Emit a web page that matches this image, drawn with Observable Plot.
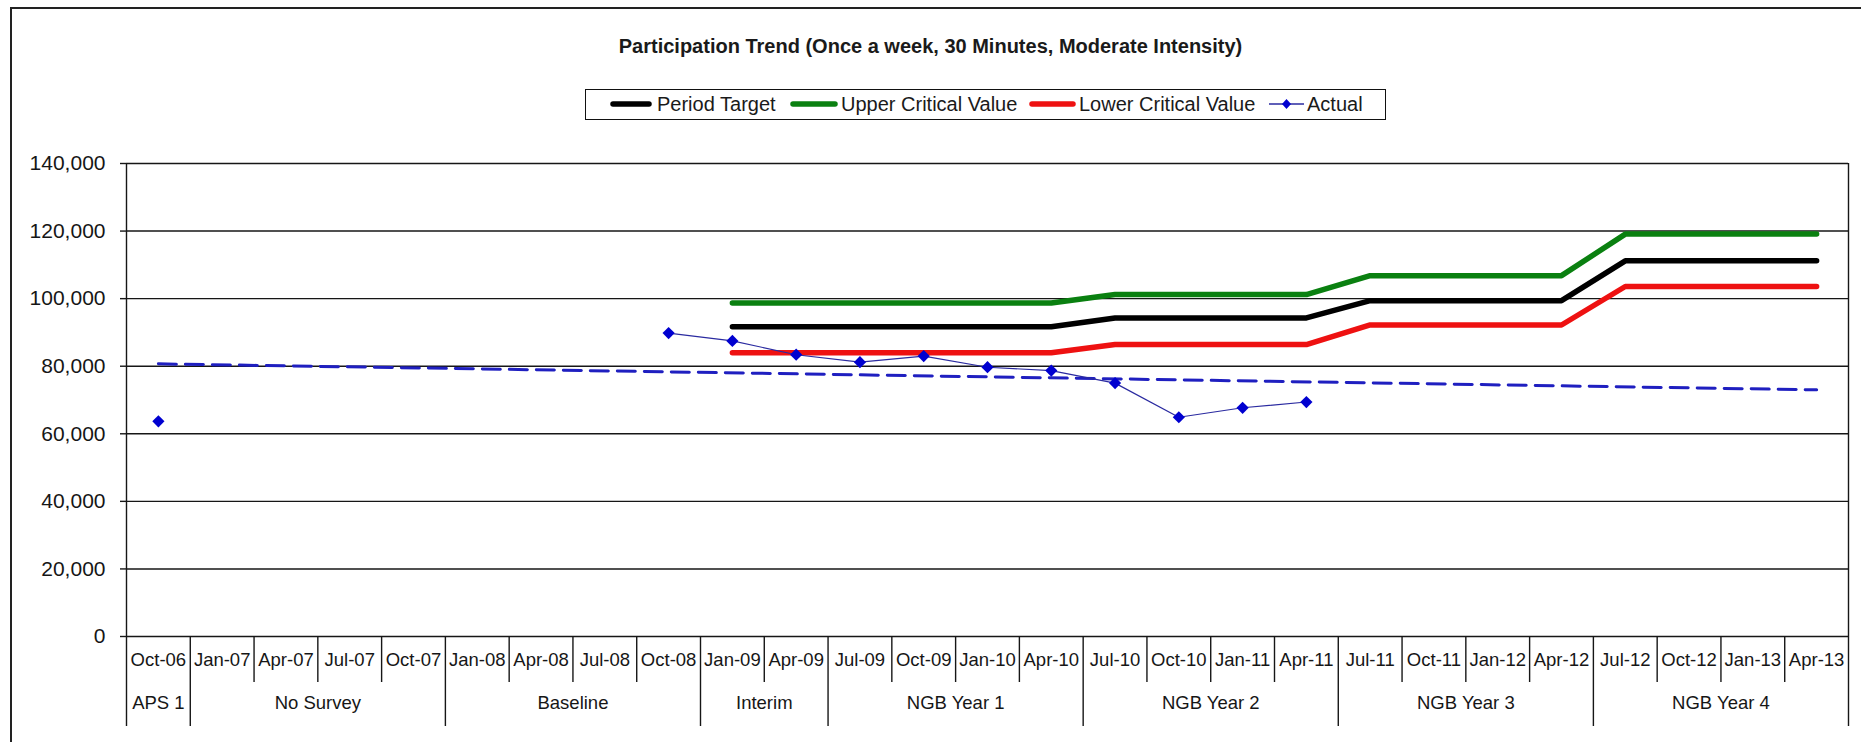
<!DOCTYPE html>
<html>
<head>
<meta charset="utf-8">
<script src="https://cdn.jsdelivr.net/npm/d3@7"></script>
<script src="https://cdn.jsdelivr.net/npm/@observablehq/plot@0.6"></script>
<style>
  html, body { margin:0; padding:0; background:#fff; overflow:hidden; }
  body { width:1861px; height:742px; position:relative; font-family:"Liberation Sans", Arial, sans-serif; color:#1a1a1a; }
  #frame { position:absolute; left:10px; top:7px; width:1900px; height:800px; border-left:2px solid #222; border-top:2px solid #222; box-sizing:border-box; }
  #title { position:absolute; left:0; width:1861px; top:35px; text-align:center; font-weight:bold; font-size:20px; }
  #legend { position:absolute; left:585px; top:89px; width:801px; height:31px; border:1.5px solid #111; box-sizing:border-box; }
  .lt { position:absolute; top:0; height:28px; line-height:28px; font-size:20px; white-space:nowrap; }
  .ls { position:absolute; top:0; }
  #chart { position:absolute; left:0; top:120px; }
</style>
</head>
<body>
<div id="frame"></div>
<div id="title">Participation Trend (Once a week, 30 Minutes, Moderate Intensity)</div>
<div id="legend"></div>
<div id="chart"></div>
<script>
// ---------- data ----------
const categories = ["Oct-06","Jan-07","Apr-07","Jul-07","Oct-07","Jan-08","Apr-08","Jul-08","Oct-08",
  "Jan-09","Apr-09","Jul-09","Oct-09","Jan-10","Apr-10","Jul-10","Oct-10","Jan-11","Apr-11",
  "Jul-11","Oct-11","Jan-12","Apr-12","Jul-12","Oct-12","Jan-13","Apr-13"];
const groups = ["APS 1","No Survey","Baseline","Interim","NGB Year 1","NGB Year 2","NGB Year 3","NGB Year 4"];
const groupSizes = [1,4,4,2,4,4,4,4];
const periodTarget = [null,null,null,null,null,null,null,null,null,
  91700,91700,91700,91700,91700,91700,94300,94300,94300,94300,
  99400,99400,99400,99400,111200,111200,111200,111200];
const upperCritical = [null,null,null,null,null,null,null,null,null,
  98700,98700,98700,98700,98700,98700,101200,101200,101200,101200,
  106800,106800,106800,106800,119100,119100,119100,119100];
const lowerCritical = [null,null,null,null,null,null,null,null,null,
  84000,84000,84000,84000,84000,84000,86400,86400,86400,86400,
  92200,92200,92200,92200,103600,103600,103600,103600];
const actual = [63700,null,null,null,null,null,null,null,89800,
  87500,83400,81200,83000,79700,78700,75000,64900,67700,69400,
  null,null,null,null,null,null,null,null];
const trendCats = ["Oct-06","Apr-13"];
const trendValues = [80700, 73000];
const yTicks = [0,20000,40000,60000,80000,100000,120000,140000];

// ---------- tables ----------
const rows = categories.map((c,i)=>({i, cat:c, target:periodTarget[i], upper:upperCritical[i], lower:lowerCritical[i], actual:actual[i]}));
const trendRows = trendCats.map((c,k)=>({i:categories.indexOf(c), v:trendValues[k]}));
let start = 0;
const groupRows = groups.map((g,k)=>{ const r = {name:g, center:start - 0.5 + groupSizes[k]/2, left:start-0.5}; start += groupSizes[k]; return r; });
const edges = [-0.5, categories.length-0.5];
const groupBounds = groupRows.map(d=>d.left).filter(b=>!edges.includes(b));
const catBounds = d3.range(1, categories.length).map(i=>i-0.5).filter(b=>!groupBounds.includes(b));

const ink = "#161616";
const chart = Plot.plot({
  width:1861, height:622,
  marginTop:43, marginBottom:106, marginLeft:126, marginRight:13,
  x:{domain:[-0.5, categories.length-0.5], axis:null},
  y:{domain:[0,140000], axis:null},
  style:{fontFamily:'"Liberation Sans", Arial, sans-serif', fontSize:"18px", color:ink, background:"transparent", overflow:"visible"},
  marks:[
    Plot.ruleY(yTicks, {stroke:ink, strokeWidth:1.4}),
    Plot.axisY(yTicks, {anchor:"left", tickSize:6, tickPadding:15, tickFormat:d3.format(","), fontSize:21, stroke:ink, strokeWidth:1.4, label:null}),
    Plot.ruleX(edges, {stroke:ink, strokeWidth:1.4, insetBottom:-90}),
    Plot.axisX(groupBounds, {anchor:"bottom", tickSize:90, tickFormat:()=>"", stroke:ink, strokeWidth:1.4, label:null}),
    Plot.axisX(catBounds, {anchor:"bottom", tickSize:46, tickFormat:()=>"", stroke:ink, strokeWidth:1.4, label:null}),
    Plot.text(rows, {x:"i", frameAnchor:"bottom", dy:29, text:"cat", fontSize:18.5, fill:ink}),
    Plot.text(groupRows, {x:"center", frameAnchor:"bottom", dy:72, text:"name", fontSize:18.5, fill:ink}),
    Plot.line(trendRows, {x:"i", y:"v", stroke:"#1f1fc0", strokeWidth:3, strokeDasharray:"18,9"}),
    Plot.line(rows, {x:"i", y:"target", stroke:"#000", strokeWidth:5.5, strokeLinejoin:"round"}),
    Plot.line(rows, {x:"i", y:"upper", stroke:"#0a8010", strokeWidth:5.5, strokeLinejoin:"round"}),
    Plot.line(rows, {x:"i", y:"lower", stroke:"#ee1111", strokeWidth:5.5, strokeLinejoin:"round"}),
    Plot.line(rows, {x:"i", y:"actual", stroke:"#2a2aa0", strokeWidth:1.2}),
    Plot.dot(rows, {x:"i", y:"actual", symbol:"diamond2", fill:"#0000d0", stroke:"none", r:5.5})
  ]
});
document.getElementById("chart").appendChild(chart);

// ---------- legend ----------
const legendItems = [
  {label:"Period Target", color:"#000", kind:"thick", x:24, w:42, tx:71},
  {label:"Upper Critical Value", color:"#0a8010", kind:"thick", x:204, w:48, tx:255},
  {label:"Lower Critical Value", color:"#ee1111", kind:"thick", x:443, w:47, tx:493},
  {label:"Actual", color:"#2a2aa0", kind:"marker", x:683, w:35, tx:721}
];
const legend = document.getElementById("legend");
for (const it of legendItems) {
  let s = `<svg class="ls" style="left:${it.x}px" width="${it.w}" height="28">`;
  if (it.kind === "thick") s += `<line x1="3" x2="${it.w-3}" y1="14" y2="14" stroke="${it.color}" stroke-width="5.5" stroke-linecap="round"/>`;
  else s += `<line x1="0" x2="${it.w}" y1="14" y2="14" stroke="${it.color}" stroke-width="1.3"/><path d="M${it.w/2},9L${it.w/2+4.5},14L${it.w/2},19L${it.w/2-4.5},14Z" fill="#0000d0"/>`;
  s += `</svg>`;
  legend.insertAdjacentHTML("beforeend", s + `<div class="lt" style="left:${it.tx}px">${it.label}</div>`);
}
</script>
</body>
</html>
